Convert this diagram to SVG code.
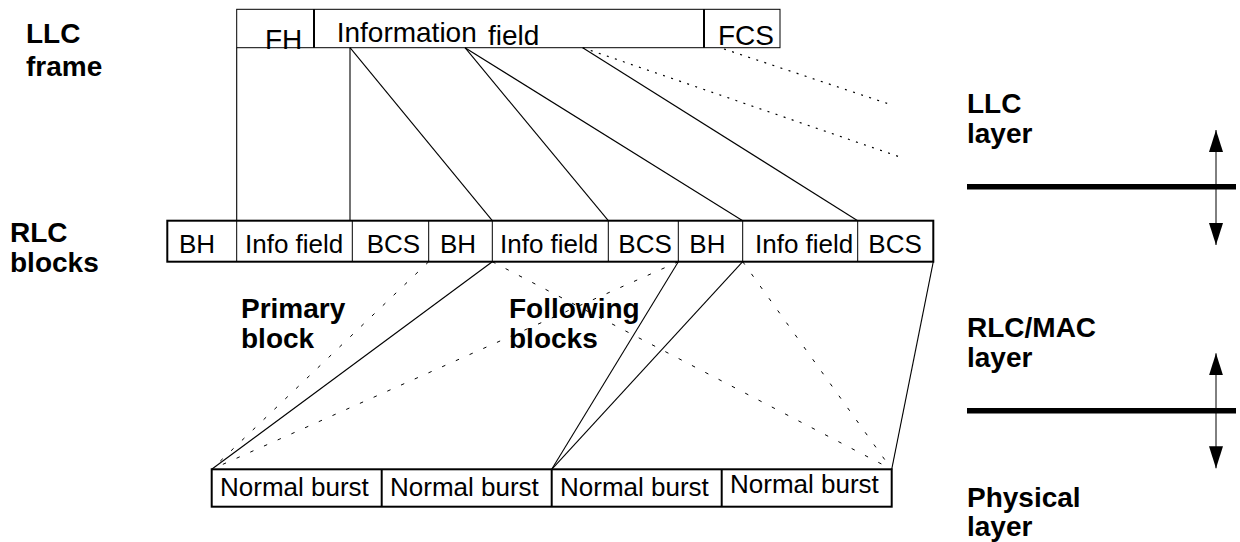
<svg xmlns="http://www.w3.org/2000/svg" width="1240" height="542" viewBox="0 0 1240 542">
<style>
text{font-family:"Liberation Sans",Arial,sans-serif;fill:#000}
.lbl{font-weight:bold;font-size:28px}
.t28{font-size:28px}
.t26{font-size:26px}
.box{fill:#fff;stroke:#000}
.thin{stroke:#000;stroke-width:1;fill:none}
.mid{stroke:#000;stroke-width:2;fill:none}
.solid{stroke:#000;stroke-width:1.1;fill:none}
.dot{stroke:#000;stroke-width:1.2;fill:none;stroke-dasharray:2 6.5}
.dash{stroke:#000;stroke-width:1;fill:none;stroke-dasharray:3.5 11.5}
.layer{stroke:#000;stroke-width:5.5}
</style>
<defs>
<marker id="ah" viewBox="0 0 22 14" refX="22" refY="7" markerWidth="22" markerHeight="14" markerUnits="userSpaceOnUse" orient="auto-start-reverse">
<path d="M0,0 L22,7 L0,14 z" fill="#000"/>
</marker>
</defs>

<g id="labels">
<text class="lbl" x="26" y="43">LLC</text>
<text class="lbl" x="26" y="76">frame</text>
<text class="lbl" x="10" y="242">RLC</text>
<text class="lbl" x="10" y="272">blocks</text>
<text class="lbl" x="241" y="318">Primary</text>
<text class="lbl" x="241" y="348">block</text>
<text class="lbl" x="509" y="318">Following</text>
<text class="lbl" x="509" y="348">blocks</text>
<text class="lbl" x="967" y="113">LLC</text>
<text class="lbl" x="967" y="143">layer</text>
<text class="lbl" x="967" y="337">RLC/MAC</text>
<text class="lbl" x="967" y="367">layer</text>
<text class="lbl" x="967" y="507">Physical</text>
<text class="lbl" x="967" y="536">layer</text>
</g>

<g id="layers">
<line class="layer" x1="967" y1="186.7" x2="1236" y2="186.7"/>
<line class="layer" x1="967" y1="410.7" x2="1236" y2="410.7"/>
<line class="thin" x1="1216" y1="130" x2="1216" y2="245" marker-start="url(#ah)" marker-end="url(#ah)"/>
<line class="thin" x1="1216" y1="353.3" x2="1216" y2="468.3" marker-start="url(#ah)" marker-end="url(#ah)"/>
</g>

<g id="llc-frame">
<rect class="box" x="236.7" y="9.3" width="543.3" height="38.4" stroke-width="1"/>
<line class="mid" x1="314" y1="9.3" x2="314" y2="47.7"/>
<line class="mid" x1="704" y1="9.3" x2="704" y2="47.7"/>
<text class="t28" x="265" y="48.5">FH</text>
<text class="t28" x="336.7" y="41.5">Information</text>
<text class="t28" x="488" y="45">field</text>
<text class="t28" x="718" y="45">FCS</text>
</g>

<g id="connectors">
<line class="solid" x1="236.7" y1="47.7" x2="236.7" y2="220.7"/>
<line class="solid" x1="350" y1="47.7" x2="350" y2="220.7"/>
<line class="solid" x1="350" y1="47.7" x2="492.3" y2="220.7"/>
<line class="solid" x1="465" y1="47.7" x2="608.3" y2="220.7"/>
<line class="solid" x1="465" y1="47.7" x2="742.7" y2="220.7"/>
<line class="solid" x1="582.7" y1="47.7" x2="857.7" y2="220.7"/>
<line class="dot" x1="582.7" y1="47.7" x2="900" y2="157"/>
<line class="dot" x1="724" y1="49" x2="892" y2="105"/>

<line class="solid" x1="492.3" y1="261.7" x2="211.7" y2="469.3"/>
<line class="solid" x1="678.3" y1="261.7" x2="551.7" y2="469.3"/>
<line class="solid" x1="742.7" y1="261.7" x2="551.7" y2="469.3"/>
<line class="solid" x1="933.3" y1="261.7" x2="891.7" y2="469.3"/>
<line class="dash" x1="428.7" y1="261.7" x2="211.7" y2="469.3"/>
<line class="dash" x1="678.3" y1="261.7" x2="211.7" y2="469.3"/>
<line class="dash" x1="492.3" y1="261.7" x2="891.7" y2="469.3"/>
<line class="dash" x1="742.7" y1="261.7" x2="891.7" y2="469.3"/>
</g>

<g id="rlc-blocks">
<rect class="box" x="167.3" y="220.7" width="766" height="41" stroke-width="2"/>
<line class="thin" x1="236.7" y1="220.7" x2="236.7" y2="261.7"/>
<line class="thin" x1="352.3" y1="220.7" x2="352.3" y2="261.7"/>
<line class="thin" x1="428.7" y1="220.7" x2="428.7" y2="261.7"/>
<line class="thin" x1="492.3" y1="220.7" x2="492.3" y2="261.7"/>
<line class="thin" x1="608.3" y1="220.7" x2="608.3" y2="261.7"/>
<line class="thin" x1="678.3" y1="220.7" x2="678.3" y2="261.7"/>
<line class="thin" x1="742.7" y1="220.7" x2="742.7" y2="261.7"/>
<line class="thin" x1="857.7" y1="220.7" x2="857.7" y2="261.7"/>
<text class="t26" x="179" y="252.5">BH</text>
<text class="t26" x="245" y="252.5">Info field</text>
<text class="t26" x="366.7" y="252.5">BCS</text>
<text class="t26" x="440" y="252.5">BH</text>
<text class="t26" x="500" y="252.5">Info field</text>
<text class="t26" x="618.3" y="252.5">BCS</text>
<text class="t26" x="689.3" y="252.5">BH</text>
<text class="t26" x="755" y="252.5">Info field</text>
<text class="t26" x="868.3" y="252.5">BCS</text>
</g>

<g id="bursts">
<rect class="box" x="211.7" y="469.3" width="680" height="37.4" stroke-width="2"/>
<line class="mid" x1="381.7" y1="469.3" x2="381.7" y2="506.7"/>
<line class="mid" x1="551.7" y1="469.3" x2="551.7" y2="506.7"/>
<line class="mid" x1="721.7" y1="469.3" x2="721.7" y2="506.7"/>
<text class="t26" x="220" y="495.7">Normal burst</text>
<text class="t26" x="390" y="495.7">Normal burst</text>
<text class="t26" x="560" y="495.7">Normal burst</text>
<text class="t26" x="730" y="493.3">Normal burst</text>
</g>
</svg>
